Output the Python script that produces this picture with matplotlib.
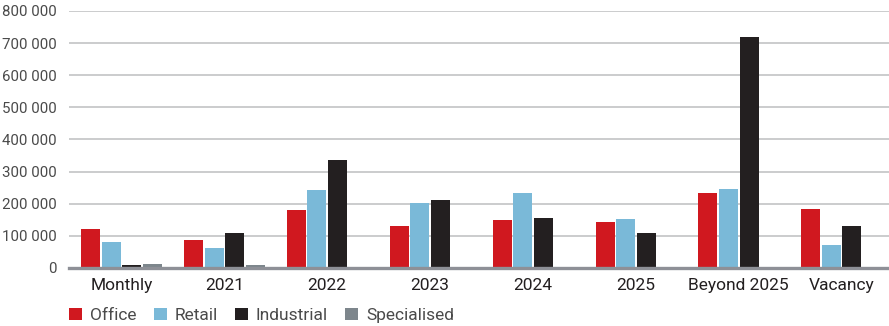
import matplotlib
matplotlib.use("Agg")
import matplotlib.pyplot as plt
import numpy as np
from matplotlib.patches import Patch

categories = ["Monthly", "2021", "2022", "2023", "2024", "2025", "Beyond 2025", "Vacancy"]
series_names = ["Office", "Retail", "Industrial", "Specialised"]
office = [120000, 88000, 179000, 129000, 148000, 144000, 232000, 182000]
retail = [79000, 63000, 241000, 201000, 232000, 151000, 247000, 70000]
industrial = [10000, 107000, 335000, 210000, 154000, 107000, 718000, 129000]
specialised = [13000, 10000, 0, 0, 0, 0, 0, 0]
yticks = [0, 100000, 200000, 300000, 400000, 500000, 600000, 700000, 800000]
ytick_labels = ["0", "100 000", "200 000", "300 000", "400 000", "500 000", "600 000", "700 000", "800 000"]

colors = ["#d0181f", "#7ab9d8", "#231f20", "#7d868c"]

W, H = 889, 326
fig = plt.figure(figsize=(W / 100, H / 100), dpi=100)
left = 69 / W
bottom = 1 - 267.8 / H
top = 1 - 11 / H
ax = fig.add_axes([left, bottom, 1 - left, top - bottom])

x = np.arange(len(categories))
all_series = [office, retail, industrial, specialised]
offsets = [-0.3, -0.1, 0.1, 0.3]
width = 0.185
for vals, off, col in zip(all_series, offsets, colors):
    ax.bar(x + off, vals, width=width, color=col, zorder=3, linewidth=0)

ax.set_xlim(-0.51, 7.46)
ax.set_ylim(0, 800000)
ax.set_yticks(yticks)
ax.set_yticklabels(ytick_labels)
ax.set_xticks(x)
ax.set_xticklabels(categories)

for s in ax.spines.values():
    s.set_visible(False)
ax.tick_params(axis="both", length=0)
ax.tick_params(axis="y", pad=9)
ax.tick_params(axis="x", pad=7)

for lab in ax.get_yticklabels():
    lab.set_family(["Roboto", "DejaVu Sans"])
    lab.set_fontsize(10.8)
    lab.set_color("#4a4a4a")
for lab in ax.get_xticklabels():
    lab.set_family(["Roboto", "DejaVu Sans"])
    lab.set_fontsize(12.5)
    lab.set_color("#231f20")

ax.yaxis.grid(True, color="#cbcccd", linewidth=1.4, zorder=0)
ax.set_axisbelow(True)
ax.axhline(0, color="#8e9097", linewidth=2.4, zorder=4, clip_on=False)

handles = [Patch(facecolor=c, edgecolor="none", label=n) for c, n in zip(colors, series_names)]
leg = fig.legend(handles=handles, loc="lower left", bbox_to_anchor=(62 / W, -0.012), ncol=4,
                 frameon=False, prop={"family": ["Roboto", "DejaVu Sans"], "size": 12.5},
                 handlelength=0.75, handleheight=0.75, handletextpad=0.45, columnspacing=1.0,
                 borderaxespad=0.0)
for t in leg.get_texts():
    t.set_color("#4a4a4a")

fig.savefig("out.png", dpi=100)
